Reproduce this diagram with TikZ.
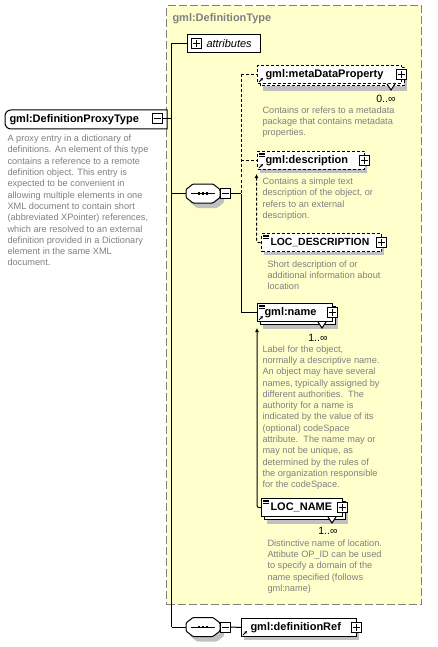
\documentclass[tikz,border=0pt]{standalone}
\usepackage{fontspec}
\setmainfont{Liberation Sans}
\usetikzlibrary{calc,arrows.meta}
\definecolor{boxyellow}{RGB}{255,255,204}
\definecolor{framegray}{RGB}{128,128,128}
\definecolor{descgray}{RGB}{128,128,128}
\definecolor{shadowgray}{RGB}{192,192,192}
\tikzset{
  typebox/.style={draw=framegray,fill=boxyellow,line width=1.3pt,dash pattern=on 8pt off 3pt,anchor=north west,inner sep=0pt},
  typetitle/.style={anchor=west,inner sep=0pt,text=descgray,font=\fontsize{11}{13}\selectfont\bfseries},
  rootbox/.style={anchor=north west,inner sep=0pt,minimum height=18pt},
  elembox/.style={draw,fill=white,anchor=north west,inner sep=0pt,minimum height=18pt},
  seqbox/.style={inner sep=0pt,minimum width=34pt,minimum height=19pt},
  optional/.style={dash pattern=on 3pt off 2pt},
  elemlabel/.style={anchor=west,inner sep=0pt,font=\fontsize{11}{13}\selectfont\bfseries},
  desc/.style={anchor=north west,inner sep=0pt,align=left,text=descgray,font=\fontsize{9.2}{11.3}\selectfont},
  pmbox/.style={draw,fill=white,minimum size=10pt,inner sep=0pt},
  card/.style={anchor=east,inner sep=0pt,font=\fontsize{10.5}{12}\selectfont},
  optconn/.style={dash pattern=on 3pt off 2pt},
  subst/.style={{Latex[length=4pt,width=4pt]}-,rounded corners=2pt},
}
\newcommand{\PlusSign}[1]{%
  \draw ([xshift=2pt]#1.west)--([xshift=-2pt]#1.east)
        ([yshift=-2pt]#1.north)--([yshift=2pt]#1.south);
}
\newcommand{\MinusSign}[1]{%
  \draw ([xshift=2pt]#1.west)--([xshift=-2pt]#1.east);
}
\newcommand{\RefMark}[1]{%
  \draw[-{Stealth[length=3pt,width=3pt]},line width=0.8pt]([shift={(2,-2)}]#1.south west)--++(4,-4);
}
\newcommand{\ContentMark}[1]{%
  \foreach \k in {0,1,2}
  {
    \draw[line width=0.6pt]([shift={(2,2+1.6*\k)}]#1.north west)--++(6,0);
  }
}
% element with one occurrence
\newcommand{\Element}[6][]{%
  \fill[shadowgray]($(#3)+(3,4)$)rectangle++(#4,18);
  \node[elembox,#1,minimum width=#4pt] (#2) at (#3) {};
  \node[elemlabel] (#2-label) at ([xshift=#6pt]#2.west) {#5};
  \node[pmbox] (#2-plus) at ([xshift=-1pt]#2.east) {};
  \PlusSign{#2-plus}
}
% element with many occurrences
\newcommand{\MultiElement}[6][]{%
  \fill[shadowgray]($(#3)+(6,8)$)rectangle++(#4,18);
  \draw[fill=white,#1]($(#3)+(3,3)$)rectangle++(#4,18);
  \node[elembox,#1,minimum width=#4pt] (#2) at (#3) {};
  \draw[fill=white]([xshift=-15pt]#2.south east)--++(4,6)--++(4,-6);
  \node[elemlabel] (#2-label) at ([xshift=#6pt]#2.west) {#5};
  \node[pmbox] (#2-plus) at ([xshift=-1pt]#2.east) {};
  \PlusSign{#2-plus}
}
\newcommand{\Sequence}[2]{%
  \begin{scope}[shift={(#2)}]
    \fill[shadowgray,rounded corners=1pt,shift={(4,5)}](-10,-9.5)--(10,-9.5)--(17,-4)--(17,4)--(10,9.5)--(-10,9.5)--(-17,4)--(-17,-4)--cycle;
    \node[seqbox] (#1) at (0,0) {};
    \draw[fill=white,rounded corners=1pt](-10,-9.5)--(10,-9.5)--(17,-4)--(17,4)--(10,9.5)--(-10,9.5)--(-17,4)--(-17,-4)--cycle;
    \draw(-12,0)--(12,0);
    \foreach \d in {-4,0,4}
    {
      \fill(\d-1.3,-1.3)rectangle(\d+1.3,1.3);
    }
    \node[pmbox] (#1-minus) at (22.5,0) {};
  \end{scope}
  \MinusSign{#1-minus}
}

\begin{document}
\begin{tikzpicture}[x=1pt,y=-1pt,line width=1pt]
  \useasboundingbox(0,0)rectangle(437,647);
  % complex type frame
  \node[typebox,minimum width=255pt,minimum height=599pt] (deftype) at (166,5) {};
  \node[typetitle] (deftype-title) at (172,19) {gml:DefinitionType};
  \coordinate (trunk) at (171.5,0);
  \coordinate (branch) at (241,0);
  % root element
  \node[rootbox,minimum width=161pt] (root) at (5,110) {};
  \fill[shadowgray,shift={(4,4)}](root.north east)[rounded corners=6pt]--(root.north west)--(root.south west)[sharp corners]--(root.south east)--cycle;
  \draw[fill=white](root.north east)[rounded corners=6pt]--(root.north west)--(root.south west)[sharp corners]--(root.south east)--cycle;
  \node[elemlabel] (root-label) at ([xshift=4pt]root.west) {gml:DefinitionProxyType};
  \node[pmbox] (root-minus) at (157,119) {};
  \MinusSign{root-minus}
  \node[desc] (root-desc) at (7,134.5) {A proxy entry in a dictionary of\\definitions. An element of this type\\contains a reference to a remote\\definition object. This entry is\\expected to be convenient in\\allowing multiple elements in one\\XML document to contain short\\(abbreviated XPointer) references,\\which are resolved to an external\\definition provided in a Dictionary\\element in the same XML\\document.};
  % attributes
  \node[elembox,minimum width=73pt] (attr) at (187,34) {};
  \node[pmbox] (attr-plus) at ([xshift=9pt]attr.west) {};
  \PlusSign{attr-plus}
  \node[elemlabel,font=\fontsize{11}{13}\selectfont\itshape] (attr-label) at ([xshift=19pt]attr.west) {attributes};
  % sequences
  \Sequence{seq1}{203,193.5}
  \Sequence{seq2}{203,627}
  % children
  \MultiElement[optional]{mdp}{257,65}{144}{gml:metaDataProperty}{8}
  \RefMark{mdp}
  \node[card] (mdp-card) at ([shift={(-6,15)}]mdp.south east) {0..∞};
  \node[desc] (mdp-desc) at (262,106) {Contains or refers to a metadata\\package that contains metadata\\properties.};
  \Element[optional]{desc}{257,151}{107}{gml:description}{8}
  \ContentMark{desc}
  \RefMark{desc}
  \node[desc] (desc-desc) at (262,177.5) {Contains a simple text\\description of the object, or\\refers to an external\\description.};
  \Element[optional]{locdesc}{261,233}{120}{\fontsize{10.4}{12}\selectfont LOC\_DESCRIPTION}{9}
  \ContentMark{locdesc}
  \node[desc] (locdesc-desc) at (267,260) {Short description of or\\additional information about\\location};
  \MultiElement{name}{257,303}{75}{gml:name}{7}
  \ContentMark{name}
  \RefMark{name}
  \node[card] (name-card) at ([shift={(-5,16)}]name.south east) {1..∞};
  \node[desc] (name-desc) at (262,345) {Label for the object,\\normally a descriptive name.\\An object may have several\\names, typically assigned by\\different authorities.\ \ The\\authority for a name is\\indicated by the value of its\\(optional) codeSpace\\attribute.\ \ The name may or\\may not be unique, as\\determined by the rules of\\the organization responsible\\for the codeSpace.};
  \MultiElement{locname}{261,498}{81}{LOC\_NAME}{9}
  \ContentMark{locname}
  \node[card] (locname-card) at ([shift={(-5,14)}]locname.south east) {1..∞};
  \node[desc] (locname-desc) at (267,539) {Distinctive name of location.\\Attibute OP\_ID can be used\\to specify a domain of the\\name specified (follows\\gml:name)};
  \Element{defref}{241,618}{115}{gml:definitionRef}{9}
  \RefMark{defref}
  % connectors
  \draw(root-minus.east)--(root-minus.east-|trunk);
  \draw(attr.west-|trunk)--(seq2.west-|trunk);
  \draw(attr.west-|trunk)--(attr.west);
  \draw(seq1.west-|trunk)--(seq1.west);
  \draw(seq2.west-|trunk)--(seq2.west);
  \draw(seq2-minus.east)--(defref.west);
  \draw[optconn](mdp.west-|branch)--(seq1-minus.east-|branch);
  \draw(seq1-minus.east-|branch)--(name.west-|branch);
  \draw(seq1-minus.east)--(seq1-minus.east-|branch);
  \draw[optconn](mdp.west-|branch)--(mdp.west);
  \draw[optconn](desc.west-|branch)--(desc.west);
  \draw(name.west-|branch)--(name.west);
  \draw[optconn,subst]([shift={(-0.5,4)}]desc.south west)|-(locdesc.west);
  \draw[subst]([shift={(0,6)}]name.south west)|-(locname.west);
\end{tikzpicture}
\end{document}
